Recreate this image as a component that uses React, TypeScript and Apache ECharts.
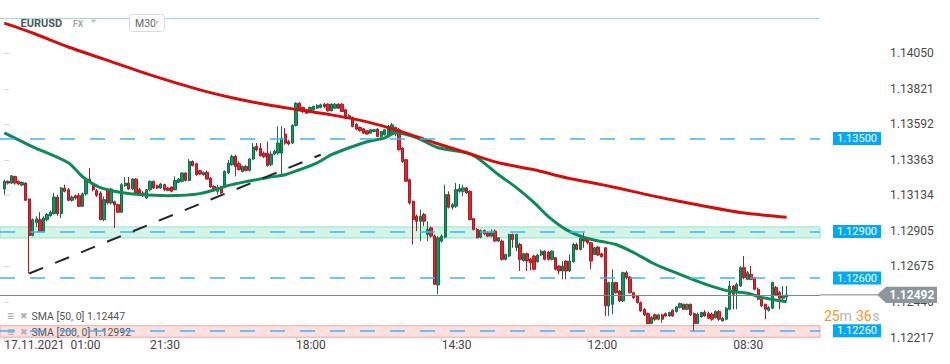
import React, { useEffect, useRef } from 'react';
import * as echarts from 'echarts';

// Candles: [open, close, low, high] in 1e-5 price units (EURUSD, M30)
const candles: number[][] = [
  [113175,113224,113138,113235],[113224,113213,113203,113230],[113213,113260,113207,113265],[113256,113213,113203,113260],
  [113224,113207,113200,113230],[113200,113218,113192,113224],[113213,113102,113097,113218],[113110,112875,112630,113115],
  [112875,112977,112870,112986],[112960,112982,112930,112999],[112977,112902,112896,113025],[112902,112988,112896,112999],
  [112977,113010,112967,113020],[113003,113025,112995,113037],[113016,113123,113010,113149],[113123,113016,113003,113138],
  [113016,113181,112988,113188],[113181,113160,113153,113203],[113170,113102,113095,113181],[113102,113123,113093,113132],
  [113132,113117,113106,113138],[113132,113063,113059,113149],[113063,113143,113059,113153],[113143,113239,113132,113252],
  [113239,113224,113213,113310],[113203,113170,113160,113213],[113164,113134,113123,113175],[113149,112977,112973,113160],
  [112977,113106,112967,113127],[113170,113085,113074,113181],[113085,113175,113074,113181],[113093,113072,112924,113100],
  [113074,113025,113020,113080],[113025,113203,113020,113213],[113196,113213,113188,113252],[113213,113175,113170,113252],
  [113175,113239,113166,113245],[113239,113149,113138,113245],[113170,113149,113138,113181],[113149,113132,113123,113160],
  [113117,113170,113110,113175],[113170,113224,113160,113230],[113224,113181,113175,113230],[113196,113181,113175,113203],
  [113181,113207,113175,113213],[113203,113170,113160,113209],[113181,113166,113160,113188],[113188,113160,113153,113192],
  [113170,113230,113166,113256],[113218,113239,113213,113245],[113224,113278,113218,113282],[113278,113230,113224,113282],
  [113230,113353,113224,113368],[113353,113325,113320,113359],[113338,113267,113260,113342],[113293,113271,113265,113299],
  [113267,113282,113260,113288],[113282,113239,113235,113295],[113245,113188,113181,113252],[113192,113170,113160,113198],
  [113160,113185,113138,113203],[113192,113149,113143,113196],[113192,113288,113181,113295],[113278,113342,113271,113363],
  [113331,113385,113325,113396],[113385,113320,113256,113396],[113338,113299,113295,113353],[113288,113320,113282,113327],
  [113320,113295,113288,113331],[113295,113368,113288,113374],[113368,113445,113363,113471],[113449,113428,113417,113471],
  [113438,113389,113385,113471],[113406,113385,113374,113417],[113406,113325,113320,113481],[113332,113400,113321,113418],
  [113400,113418,113392,113428],[113407,113471,113396,113578],[113407,113503,113267,113578],[113529,113471,113460,113568],
  [113482,113465,113456,113493],[113471,113585,113465,113593],[113585,113728,113578,113735],[113728,113686,113679,113735],
  [113701,113675,113664,113707],[113686,113664,113658,113692],[113670,113701,113664,113707],[113686,113707,113679,113713],
  [113696,113713,113692,113722],[113701,113718,113696,113726],[113722,113705,113696,113728],[113722,113679,113675,113728],
  [113679,113722,113675,113728],[113696,113722,113692,113728],[113722,113696,113692,113728],[113722,113675,113670,113728],
  [113686,113632,113628,113692],[113632,113649,113628,113658],[113636,113578,113572,113643],[113593,113561,113555,113600],
  [113572,113550,113546,113578],[113563,113535,113529,113568],[113550,113529,113525,113557],[113535,113557,113529,113563],
  [113546,113557,113542,113563],[113561,113514,113508,113568],[113514,113546,113508,113550],[113525,113557,113520,113563],
  [113514,113578,113508,113589],[113535,113589,113529,113600],[113572,113546,113514,113578],[113557,113428,113422,113568],
  [113439,113353,113343,113443],[113364,113225,113220,113370],[113235,113085,113074,113242],[113096,112978,112817,113100],
  [112999,112967,112903,113010],[112967,112999,112839,113042],[113010,112967,112935,113021],[112882,112914,112839,112967],
  [112924,112871,112861,112935],[112871,112560,112556,112882],[112556,112860,112496,112871],[112839,112871,112828,112882],
  [112864,113139,112856,113203],[113139,113057,113049,113160],[113057,113074,113042,113085],[113064,113171,113053,113214],
  [113160,113177,113150,113207],[113160,113182,113128,113203],[113182,113150,113143,113186],[113160,112978,112972,113165],
  [112984,112914,112907,112989],[112914,112860,112856,112924],[112864,112907,112856,112914],[112907,112886,112877,112914],
  [112892,112871,112864,112903],[112871,112899,112864,112914],[112903,112839,112834,112914],[112839,112860,112834,112864],
  [112839,112721,112714,112849],[112721,112753,112714,112757],[112742,112882,112736,112886],[112882,112849,112796,112886],
  [112796,112882,112774,112886],[112817,112721,112646,112828],[112714,112757,112706,112764],[112757,112710,112646,112764],
  [112721,112699,112650,112732],[112742,112657,112650,112749],[112706,112749,112699,112757],[112749,112774,112742,112785],
  [112774,112721,112714,112779],[112768,112721,112714,112774],[112721,112774,112714,112779],[112732,112657,112650,112736],
  [112678,112646,112624,112684],[112646,112678,112592,112710],[112710,112646,112592,112714],[112646,112710,112639,112753],
  [112706,112817,112699,112828],[112817,112785,112779,112828],[112785,112856,112779,112864],[112856,112839,112796,112892],
  [112849,112828,112817,112860],[112828,112710,112657,112834],[112753,112796,112749,112800],[112800,112749,112742,112807],
  [112757,112738,112732,112764],[112796,112421,112356,112800],[112421,112571,112356,112577],[112431,112571,112367,112657],
  [112571,112506,112500,112577],[112517,112453,112446,112522],[112453,112635,112446,112642],[112635,112603,112592,112646],
  [112607,112506,112500,112614],[112506,112474,112464,112513],[112485,112442,112436,112491],[112442,112389,112382,112449],
  [112399,112363,112356,112406],[112371,112307,112303,112378],[112307,112346,112303,112356],[112363,112335,112324,112371],
  [112335,112363,112328,112371],[112363,112335,112313,112371],[112371,112356,112350,112378],[112356,112378,112350,112384],
  [112393,112356,112350,112399],[112384,112414,112378,112421],[112410,112436,112406,112442],[112431,112399,112393,112436],
  [112399,112431,112393,112436],[112431,112363,112356,112436],[112371,112307,112255,112378],[112307,112367,112303,112378],
  [112350,112378,112346,112384],[112378,112356,112350,112393],[112371,112341,112335,112384],[112367,112335,112324,112378],
  [112346,112384,112339,112393],[112384,112335,112324,112393],[112324,112341,112320,112350],[112335,112406,112328,112414],
  [112399,112549,112393,112582],[112549,112496,112399,112556],[112517,112560,112399,112571],[112549,112667,112543,112678],
  [112667,112603,112592,112742],[112592,112635,112586,112646],[112625,112592,112586,112678],[112603,112528,112521,112607],
  [112528,112464,112457,112539],[112464,112421,112414,112474],[112431,112399,112335,112436],[112393,112410,112384,112421],
  [112406,112571,112399,112577],[112539,112491,112485,112549],[112506,112470,112399,112517],[112470,112485,112453,112549],
  [112479,112492,112453,112549]
];

// SMA lines sampled at candle indices: [index, value]
const sma50Points: number[][] = [
  [0,1.13537],[4,1.13492],[8,1.13447],[18,1.13344],[22,1.13254],[27,1.13184],[33,1.13152],[38,1.13139],[46,1.13132],
  [55,1.13145],[64,1.13203],[74,1.13248],[79,1.13267],[83,1.13299],[88,1.13344],[92,1.13396],[97,1.13441],[102,1.1348],
  [107,1.13505],[110,1.13537],[116,1.13505],[122,1.13441],[130,1.13409],[133,1.13377],[139,1.13267],[144,1.13184],
  [149,1.13087],[153,1.12997],[158,1.12913],[163,1.12862],[168,1.12836],[172,1.12817],[177,1.12765],[182,1.12701],
  [185,1.12669],[190,1.12624],[195,1.12579],[199,1.12547],[204,1.12515],[209,1.12502],[213,1.12476],[220,1.12447]
];
const sma200Points: number[][] = [
  [0,1.14245],[8,1.14181],[18,1.14091],[28,1.14013],[41,1.13911],[55,1.13814],[64,1.13763],[74,1.13718],[83,1.13685],
  [92,1.13653],[102,1.13608],[111,1.1355],[121,1.13473],[130,1.13409],[139,1.13344],[149,1.13299],[158,1.13248],
  [168,1.13203],[177,1.13158],[182,1.13132],[196,1.13068],[207,1.13023],[220,1.12992]
];

const priceLevels = [1.135, 1.129, 1.126, 1.1226];
const currentPrice = 1.12492;
const topZoneEdge = 1.14278;
const greenZone = [1.1293, 1.12859];
const redZone = [1.12293, 1.12219];
const trendStart = [7, 1.1263];
const trendEnd = [89, 1.13396];
const yTicks = [1.12217, 1.12446, 1.12675, 1.12905, 1.13134, 1.13363, 1.13592, 1.13821, 1.1405];
const xTickLabels: [number, string][] = [
  [0, '17.11.2021  01:00'], [41, '21:30'], [82, '18:00'], [123, '14:30'], [164, '12:00'], [205, '08:30']
];
const xMin = -1.21;
const xMax = 229.39;
const legendRows = ['SMA [50, 0] 1.12447', 'SMA [200, 0] 1.12992'];
const countdown = ['25', 'm', '36', 's'];

const FONT = 'Roboto, "Noto Sans", sans-serif';

export default function App() {
  const ref = useRef<HTMLDivElement>(null);
  useEffect(() => {
    document.body.style.margin = '0';
    if (!ref.current) return;
    const chart = echarts.init(ref.current, null, { renderer: 'svg' });
    const tickMap = new Map<number, string>(xTickLabels);
    const xTickValues = xTickLabels.map((t) => t[0]);
    const candleData = candles.map((c, i) => [i, ...c.map((v) => v / 1e5)]);

    const hLine = (v: number, lineStyle: any, label: any) => [
      { coord: [xMin, v], lineStyle, label },
      { coord: [xMax, v] },
    ];

    const levelLines = priceLevels.map((v) =>
      hLine(
        v,
        { type: [15, 15], color: '#3cb5f3', width: 1.5 },
        {
          show: true,
          position: 'end',
          distance: 13,
          formatter: () => v.toFixed(5),
          backgroundColor: '#03a9f4',
          color: '#ffffff',
          fontSize: 11,
          fontFamily: FONT,
          lineHeight: 12,
          padding: [1, 4, 0, 4],
        }
      )
    );

    const option: any = {
      animation: false,
      textStyle: { fontFamily: FONT },
      grid: { left: 0, right: 130, top: 0, bottom: 26.5 },
      xAxis: {
        type: 'value',
        min: xMin,
        max: xMax,
        axisLine: { show: false },
        axisTick: {
          show: true,
          customValues: xTickValues,
          length: 4,
          lineStyle: { color: '#cfcfcf' },
        },
        axisLabel: {
          customValues: xTickValues,
          formatter: (v: number) => tickMap.get(Math.round(v)) ?? '',
          align: 'left',
          margin: 1,
          color: '#444',
          fontSize: 12,
          fontFamily: FONT,
        },
        splitLine: { show: false },
      },
      yAxis: {
        type: 'value',
        position: 'right',
        offset: 62,
        min: 1.12217,
        max: 1.14394,
        axisLine: { show: false },
        axisTick: { show: true, length: 5, customValues: yTicks, lineStyle: { color: '#d6d6d6' } },
        axisLabel: {
          customValues: yTicks,
          formatter: (v: number) => v.toFixed(5),
          margin: 8,
          color: '#4a4a4a',
          fontSize: 12,
          fontFamily: FONT,
        },
        splitLine: { show: false },
      },
      series: [
        {
          type: 'candlestick',
          data: candleData,
          encode: { x: 0, y: [1, 2, 3, 4] },
          barWidth: 2.8,
          z: 2,
          itemStyle: {
            color: '#18935f',
            color0: '#e3242f',
            borderColor: '#0f6e46',
            borderColor0: '#a81a24',
            borderWidth: 1,
          },
        },
        {
          type: 'line',
          name: 'SMA50',
          data: sma50Points,
          smooth: 0.25,
          symbol: 'none',
          z: 3,
          lineStyle: { color: '#0f8a57', width: 3 },
        },
        {
          type: 'line',
          name: 'SMA200',
          data: sma200Points,
          smooth: 0.25,
          symbol: 'none',
          z: 3,
          lineStyle: { color: '#d10f0f', width: 3 },
        },
        {
          type: 'line',
          data: [],
          z: 4,
          markLine: {
            silent: true,
            symbol: ['none', 'none'],
            animation: false,
            data: [
              ...levelLines,
              hLine(currentPrice, { type: 'solid', color: '#7b868c', width: 1 }, { show: false }),
              hLine(topZoneEdge, { type: 'solid', color: '#95e4c8', width: 1 }, { show: false }),
              [
                { coord: trendStart, lineStyle: { type: [15, 13], color: '#262626', width: 2 }, label: { show: false } },
                { coord: trendEnd },
              ],
            ],
          },
        },
        {
          type: 'line',
          data: [],
          z: 5,
          markArea: {
            silent: true,
            data: [
              [
                { yAxis: greenZone[0], itemStyle: { color: 'rgba(40,200,140,0.2)', borderColor: '#94e3c5', borderWidth: 1 } },
                { yAxis: greenZone[1] },
              ],
              [
                { yAxis: redZone[0], itemStyle: { color: 'rgba(240,80,80,0.18)', borderColor: '#f4a6a6', borderWidth: 1 } },
                { yAxis: redZone[1] },
              ],
            ],
          },
        },
      ],
    };
    chart.setOption(option);

    const py = chart.convertToPixel({ yAxisIndex: 0 }, currentPrice) as number;
    const textStyle = (text: string, fill: string, size: number, weight: string = 'normal') => ({
      text,
      fill,
      fontSize: size,
      fontFamily: FONT,
      fontWeight: weight,
      verticalAlign: 'middle',
      align: 'left',
    });
    const cdY = 315.5;
    chart.setOption({
      graphic: {
        elements: [
          // header
          { type: 'text', x: 20.5, y: 23.3, z: 10, style: textStyle('EURUSD', '#4b5961', 11, 'bold') },
          { type: 'text', x: 73, y: 24, z: 10, style: textStyle('FX', '#9aa8b3', 8.5, 'bold') },
          { type: 'polygon', z: 10, shape: { points: [[90, 19.5], [97, 19.5], [93.5, 23]] }, style: { fill: '#c8c8c8' } },
          { type: 'rect', z: 10, shape: { x: 129.5, y: 14.5, width: 35, height: 17, r: 3 }, style: { fill: '#fff', stroke: '#dcdcdc', lineWidth: 1 } },
          { type: 'text', x: 135, y: 23.3, z: 11, style: textStyle('M30', '#666', 10.5) },
          { type: 'polygon', z: 11, shape: { points: [[152.5, 21], [159.5, 21], [156, 24.5]] }, style: { fill: '#c8c8c8' } },
          // legend rows
          ...legendRows.flatMap((t, k) => [
            { type: 'text', x: 7, y: 316 + k * 16, z: 1, style: textStyle('\u2261', '#a8a8a8', 12, 'bold') },
            { type: 'text', x: 20, y: 316 + k * 16, z: 1, style: textStyle('\u2716', '#b0b0b0', 9) },
            { type: 'text', x: 31.5, y: 316 + k * 16, z: 1, style: textStyle(t, '#555', 10.5) },
          ]),
          // current price extension + tag
          { type: 'line', z: 10, shape: { x1: 820, y1: py, x2: 878, y2: py }, style: { stroke: '#7b868c', lineWidth: 1 } },
          {
            type: 'polygon',
            z: 10,
            shape: { points: [[877, py], [886, py - 8.2], [937, py - 8.2], [937, py + 8.2], [886, py + 8.2]] },
            style: { fill: '#8c979d' },
          },
          { type: 'text', x: 889.5, y: py + 0.5, z: 11, style: textStyle(currentPrice.toFixed(5), '#ffffff', 12, 'bold') },
          // countdown
          { type: 'text', x: 824, y: cdY, z: 10, style: textStyle(countdown[0], '#f7941d', 14) },
          { type: 'text', x: 839.5, y: cdY, z: 10, style: textStyle(countdown[1], '#b4b4b4', 14) },
          { type: 'text', x: 856, y: cdY, z: 10, style: textStyle(countdown[2], '#f7941d', 14) },
          { type: 'text', x: 872.5, y: cdY, z: 10, style: textStyle(countdown[3], '#b4b4b4', 14) },
        ],
      },
    });

    return () => chart.dispose();
  }, []);
  return <div ref={ref} style={{ width: 950, height: 364 }} />;
}
